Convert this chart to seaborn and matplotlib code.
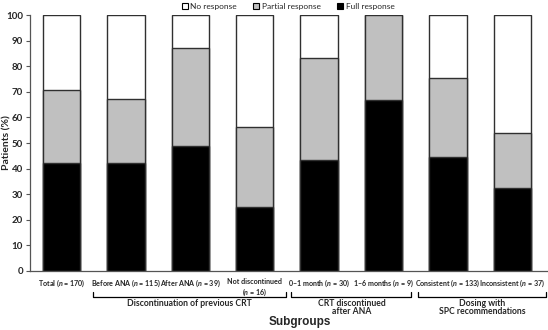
import matplotlib
matplotlib.use("Agg")
import matplotlib.pyplot as plt
import matplotlib.transforms as mtransforms
from matplotlib.patches import Patch
import seaborn as sns
import pandas as pd

categories = ["Total ($n$ = 170)", "Before ANA ($n$ = 115)", "After ANA ($n$ = 39)",
              "Not discontinued\n($n$ = 16)", "0–1 month ($n$ = 30)", "1–6 months ($n$ = 9)",
              "Consistent ($n$ = 133)", "Inconsistent ($n$ = 37)"]
full_response = [42.0, 42.0, 48.7, 25.0, 43.3, 66.7, 44.4, 32.4]
partial_response = [28.7, 25.0, 38.3, 31.25, 40.0, 33.3, 30.8, 21.6]
no_response = [29.3, 33.0, 13.0, 43.75, 16.7, 0.0, 24.8, 46.0]
series_names = ["No response", "Partial response", "Full response"]
series_colors = ["white", "#c0c0c0", "black"]
group_labels = ["Discontinuation of previous CRT", "CRT discontinued\nafter ANA",
                "Dosing with\nSPC recommendations"]
group_spans = [(0.49, 3.49), (3.57, 5.43), (5.54, 7.52)]

sns.set_style("white")
plt.rcParams["font.family"] = ["Lato", "DejaVu Sans"]
plt.rcParams["mathtext.fontset"] = "custom"
plt.rcParams["mathtext.it"] = "Lato:italic:bold"
plt.rcParams["mathtext.rm"] = "Lato:bold"

df = pd.DataFrame({"cat": categories, "full": full_response,
                   "partial": partial_response, "none": no_response})
df["top_partial"] = df["full"] + df["partial"]
df["top_none"] = df["top_partial"] + df["none"]

fig = plt.figure(figsize=(5.48, 3.30), dpi=100)
ax = fig.add_axes([0.0547, 0.1788, 0.945, 0.7757])

for col, color in zip(["top_none", "top_partial", "full"], series_colors):
    sns.barplot(data=df, x="cat", y=col, color=color, edgecolor="#303030",
                linewidth=1.0, width=0.58, ax=ax, saturation=1)

ax.set_ylim(0, 100)
ax.set_xlim(-0.49, 7.55)
ax.set_yticks(range(0, 101, 10))
ax.tick_params(axis="y", labelsize=7, length=3, width=0.8, color="#555555", pad=2, left=True)
ax.tick_params(axis="x", length=0, pad=5)
for lab in ax.get_yticklabels():
    lab.set_fontweight("bold")
for lab in ax.get_xticklabels():
    lab.set_fontweight("bold")
    lab.set_fontsize(5.1)
    lab.set_linespacing(1.15)
ax.set_xlabel("")
ax.set_ylabel("")
for side in ["top", "right"]:
    ax.spines[side].set_visible(False)
for side in ["left", "bottom"]:
    ax.spines[side].set_color("#555555")
    ax.spines[side].set_linewidth(0.9)

fig.text(7 / 548, 1 - 143 / 330, "Patients (%)", rotation=90, ha="center", va="center",
         fontsize=7.5, fontweight="bold")

trans = mtransforms.blended_transform_factory(ax.transData, fig.transFigure)
y_line = 1 - 297 / 330
y_tick = 1 - 292 / 330
for (x0, x1), label in zip(group_spans, group_labels):
    ax.plot([x0, x0, x1, x1], [y_tick, y_line, y_line, y_tick], color="black",
            lw=0.9, transform=trans, clip_on=False)
    ax.text((x0 + x1) / 2, 1 - 298.5 / 330, label, transform=trans, ha="center",
            va="top", fontsize=6.2, fontweight="bold", linespacing=0.9)

fig.text(300 / 548, 1 - 322 / 330, "Subgroups", ha="center", va="center",
         fontsize=8.5, fontweight="bold", family="Liberation Sans")

handles = [Patch(facecolor=c, edgecolor="black", linewidth=0.8) for c in series_colors]
fig.legend(handles, series_names, loc="upper center", bbox_to_anchor=(288 / 548, 1.015),
           ncol=3, frameon=False, fontsize=6, handlelength=0.7, handleheight=0.7,
           handletextpad=0.3, columnspacing=2.0)

fig.savefig("out.png", dpi=100)
